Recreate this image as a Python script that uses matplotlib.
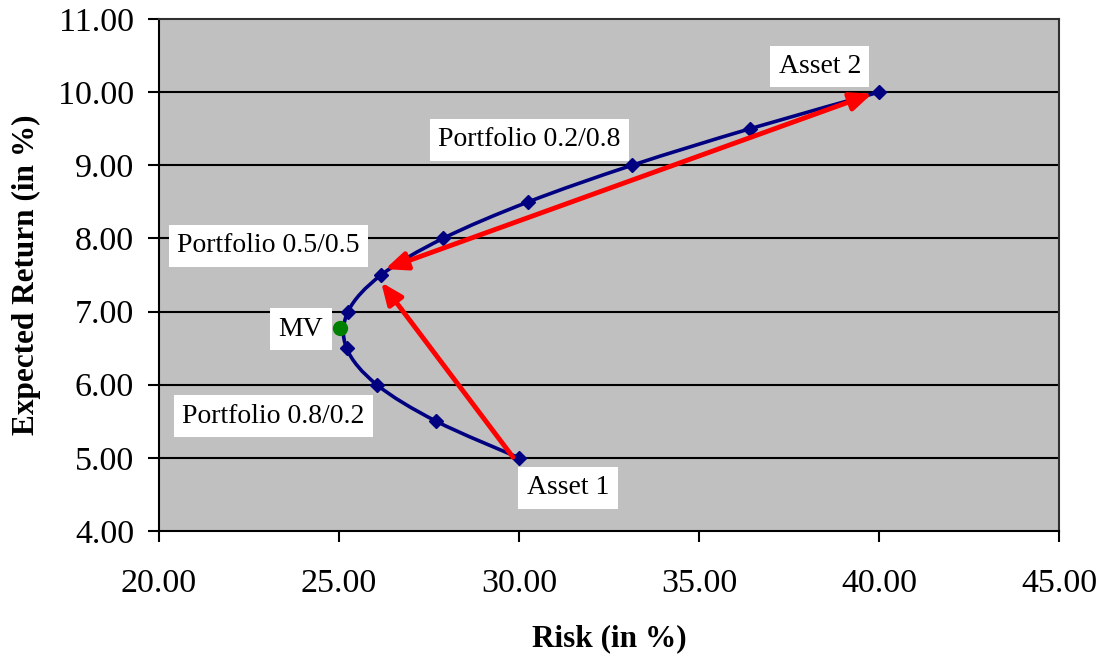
import matplotlib.pyplot as plt
from matplotlib.path import Path
from matplotlib.patches import PathPatch

plt.rcParams["font.family"] = ["Liberation Serif", "DejaVu Serif"]

# portfolio frontier (risk, expected return), weight of asset 1 from 1.0 to 0.0
risk = [30.00, 27.70, 26.05, 25.21, 25.25, 26.17, 27.89, 30.26, 33.14, 36.42, 40.00]
ret = [5.00, 5.50, 6.00, 6.50, 7.00, 7.50, 8.00, 8.50, 9.00, 9.50, 10.00]

mv_risk, mv_ret = 25.03, 6.78

labels = ["Asset 1", "Portfolio 0.8/0.2", "MV", "Portfolio 0.5/0.5",
          "Portfolio 0.2/0.8", "Asset 2"]
label_x = [31.36, 23.17, 23.94, 23.03, 30.28, 38.36]
label_y = [4.59, 5.57, 6.76, 7.90, 9.35, 10.35]

x_ticks = [20, 25, 30, 35, 40, 45]
y_ticks = [4, 5, 6, 7, 8, 9, 10, 11]


def smooth_path(xs, ys):
    # excel style smoothed line (catmull-rom as bezier segments)
    pts = list(zip(xs, ys))
    verts = [pts[0]]
    codes = [Path.MOVETO]
    n = len(pts)
    for i in range(n - 1):
        p0 = pts[i - 1] if i > 0 else pts[i]
        p1 = pts[i]
        p2 = pts[i + 1]
        p3 = pts[i + 2] if i + 2 < n else pts[i + 1]
        c1 = (p1[0] + (p2[0] - p0[0]) / 6, p1[1] + (p2[1] - p0[1]) / 6)
        c2 = (p2[0] - (p3[0] - p1[0]) / 6, p2[1] - (p3[1] - p1[1]) / 6)
        verts += [c1, c2, p2]
        codes += [Path.CURVE4] * 3
    return Path(verts, codes)


fig = plt.figure(figsize=(11.03, 6.57), dpi=100)
ax = fig.add_axes([0.1442, 0.1918, 0.8159, 0.7793])
ax.set_facecolor("#c0c0c0")

ax.set_xlim(20, 45)
ax.set_ylim(4, 11)
ax.set_xticks(x_ticks)
ax.set_yticks(y_ticks)
ax.set_xticklabels([f"{t:.2f}" for t in x_ticks], fontsize=24.5)
ax.set_yticklabels([f"{t:.2f}" for t in y_ticks], fontsize=24.5)
ax.tick_params(direction="out", length=8, width=1.5)
ax.tick_params(axis="x", pad=19)
ax.tick_params(axis="y", pad=10)
for s in ax.spines.values():
    s.set_linewidth(1.5)
ax.spines["top"].set_color("#303030")
ax.spines["right"].set_color("#303030")

for y in y_ticks[1:-1]:
    ax.axhline(y, color="black", lw=1.5, zorder=1)

ax.add_patch(PathPatch(smooth_path(risk, ret), fill=False, edgecolor="#000080",
                       lw=2.6, zorder=3))
ax.plot(risk, ret, ls="none", marker="D", ms=7, color="#000080", zorder=4)
ax.plot([mv_risk], [mv_ret], ls="none", marker="o", ms=10, color="#008000", zorder=5)

arrow_style = dict(arrowstyle="-|>,head_length=1.3,head_width=0.55", color="#ff0000",
                   lw=3.5, shrinkA=0, shrinkB=0)
ax.annotate("", xy=(26.17, 7.40), xytext=(29.83, 5.01),
            arrowprops=arrow_style, zorder=6)
ax.annotate("", xy=(39.81, 9.98), xytext=(26.28, 7.58),
            arrowprops=dict(arrow_style, arrowstyle="<|-|>,head_length=1.3,head_width=0.55"),
            zorder=6)

for t, x, y in zip(labels, label_x, label_y):
    ax.text(x, y, t, fontsize=20, ha="center", va="center", zorder=7,
            bbox=dict(facecolor="white", edgecolor="none", pad=6))

ax.set_xlabel("Risk (in %)", fontsize=22.5, fontweight="bold", labelpad=18)
ax.set_ylabel("Expected Return (in %)", fontsize=22.5, fontweight="bold", labelpad=12)

fig.savefig("out.png", dpi=100)
